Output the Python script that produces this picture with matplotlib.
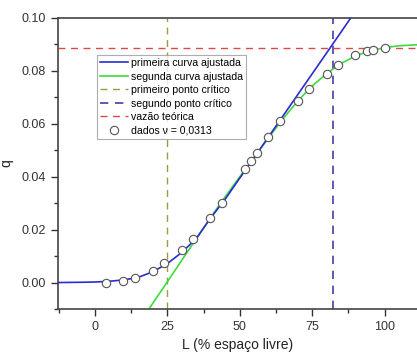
import matplotlib
matplotlib.use("Agg")
import matplotlib.pyplot as plt
from matplotlib.ticker import MultipleLocator

plt.rcParams['font.family'] = ['Liberation Sans', 'DejaVu Sans']

# measured data
data_L = [3.8, 9.8, 13.8, 20.0, 23.9, 30.0, 34.0, 39.7, 43.9, 51.9, 53.9, 56.0,
          59.9, 64.0, 70.1, 74.0, 80.0, 84.0, 89.9, 94.0, 96.0, 100.0]
data_q = [0.0000, 0.0007, 0.0016, 0.0045, 0.0072, 0.0122, 0.0166, 0.0243, 0.0302,
          0.0431, 0.0458, 0.0488, 0.0550, 0.0609, 0.0687, 0.0733, 0.0790, 0.0824,
          0.0859, 0.0874, 0.0880, 0.0886]

fit1_L = [-12.8, -5, 0, 5, 10, 15, 20, 25, 30, 35, 40, 45, 50, 55, 60, 70, 80, 88.5]
fit1_q = [0.0000, 0.0001, 0.0002, 0.0005, 0.0010, 0.0020, 0.0041, 0.0072, 0.0114,
          0.0167, 0.0245, 0.0316, 0.0395, 0.0473, 0.0552, 0.0710, 0.0868, 0.1003]

fit2_L = [18.6, 25, 30, 35, 40, 45, 50, 55, 60, 65, 70, 75, 80, 85, 90, 95, 100,
          105, 112]
fit2_q = [-0.0100, 0.0003, 0.0085, 0.0166, 0.0247, 0.0325, 0.0400, 0.0474, 0.0548,
          0.0620, 0.0686, 0.0743, 0.0790, 0.0828, 0.0857, 0.0876, 0.0888, 0.0895,
          0.0899]

crit1 = 25.0
crit2 = 82.2
q_teorica = 0.0885

fig = plt.figure(figsize=(4.17, 3.59), dpi=100)
ax = fig.add_axes([58/417, 1 - 309/359, 1 - 58/417 + 0.002, (309 - 18)/359])

ax.plot(fit1_L, fit1_q, color='#2b2bd0', lw=1.2, label='primeira curva ajustada', zorder=3)
ax.plot(fit2_L, fit2_q, color='#3ddc3d', lw=1.2, label='segunda curva ajustada', zorder=2)
ax.axvline(crit1, color='#a09a40', lw=1.0, ls=(0, (5, 4)), label='primeiro ponto crítico', zorder=1)
ax.axvline(crit2, color='#4040a8', lw=1.2, ls=(0, (5, 4)), label='segundo ponto crítico', zorder=1)
ax.axhline(q_teorica, color='#e04848', lw=1.0, ls=(0, (5, 4)), label='vazão teórica', zorder=1)
ax.plot(data_L, data_q, ls='none', marker='o', ms=6, mfc='white', mec='#555555',
        mew=0.8, label='dados ν = 0,0313', zorder=4)

ax.set_xlim(-12.8, 111.5)
ax.set_ylim(-0.01, 0.10)
ax.xaxis.set_major_locator(MultipleLocator(25))
ax.xaxis.set_minor_locator(MultipleLocator(12.5))
ax.yaxis.set_major_locator(MultipleLocator(0.02))
ax.yaxis.set_minor_locator(MultipleLocator(0.01))
ax.yaxis.set_major_formatter(matplotlib.ticker.FormatStrFormatter('%.2f'))
ax.tick_params(which='major', direction='out', length=5, width=1, labelsize=9,
               colors='#333333')
ax.tick_params(which='minor', direction='out', length=3, width=1, colors='#333333')
ax.tick_params(top=False, right=False)
ax.spines['right'].set_visible(False)
for s in ['left', 'bottom', 'top']:
    ax.spines[s].set_color('#444444')
    ax.spines[s].set_linewidth(1.2)

ax.set_xlabel('L (% espaço livre)', fontsize=10, color='#222222', labelpad=4)
ax.set_ylabel('q', fontsize=10, color='#222222', labelpad=6)

leg = ax.legend(loc='upper left', bbox_to_anchor=((97 - 58) / 359.5, 1 - (55 - 18) / 291),
                fontsize=7.6, frameon=True, fancybox=False, borderpad=0.3,
                labelspacing=0.33, handlelength=2.6, handletextpad=0.3,
                borderaxespad=0)
leg.get_frame().set_edgecolor('#999999')
leg.get_frame().set_linewidth(0.8)

fig.savefig('out.png', dpi=100)
